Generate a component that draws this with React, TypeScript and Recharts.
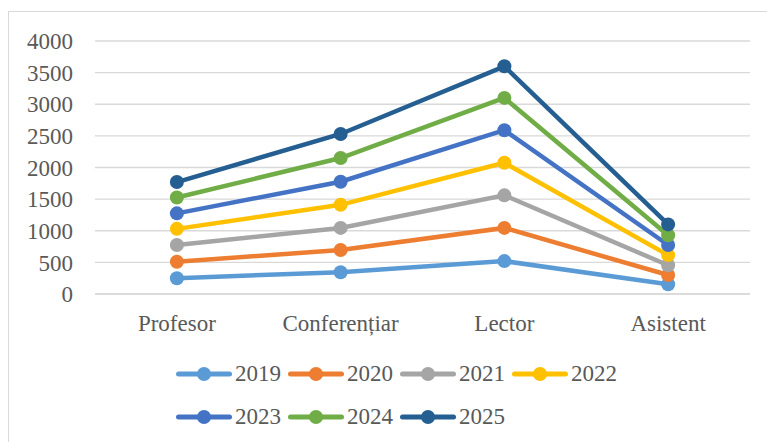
import React from "react";
import { LineChart, Line, XAxis, YAxis, CartesianGrid, Legend } from "recharts";

const categories = ["Profesor", "Conferențiar", "Lector", "Asistent"];
const years = ["2019", "2020", "2021", "2022", "2023", "2024", "2025"];
const colors = ["#5B9BD5", "#ED7D31", "#A5A5A5", "#FFC000", "#4472C4", "#70AD47", "#255E91"];
const yTicks = [0, 500, 1000, 1500, 2000, 2500, 3000, 3500, 4000];

const values2019 = [250, 345, 520, 155];
const values2020 = [510, 695, 1045, 300];
const values2021 = [775, 1045, 1560, 455];
const values2022 = [1030, 1410, 2075, 615];
const values2023 = [1275, 1775, 2590, 775];
const values2024 = [1525, 2150, 3100, 930];
const values2025 = [1770, 2530, 3600, 1100];

const seriesValues = [values2019, values2020, values2021, values2022, values2023, values2024, values2025];

const data = categories.map((name, i) => {
  const row: Record<string, string | number> = { name };
  years.forEach((y, s) => {
    row[y] = seriesValues[s][i];
  });
  return row;
});

const font = "'Liberation Serif', 'Times New Roman', serif";
const textColor = "#595959";

const LegendContent = () => (
  <div style={{ display: "flex", flexWrap: "wrap", width: 460, fontFamily: font, fontSize: 23, color: textColor }}>
    {years.map((y, i) => (
      <div key={y} style={{ display: "flex", alignItems: "center", height: 43, width: 112 }}>
        <svg width={56} height={16} style={{ display: "block" }}>
          <line x1={2.5} y1={8} x2={53.5} y2={8} stroke={colors[i]} strokeWidth={5} strokeLinecap="round" />
          <circle cx={28} cy={8} r={7} fill={colors[i]} />
        </svg>
        <span style={{ marginLeft: 3 }}>{y}</span>
      </div>
    ))}
  </div>
);

export default function App() {
  return (
    <div style={{ position: "absolute", left: 0, top: 0, width: 767, height: 442, overflow: "hidden", background: "#fff" }}>
      <div style={{ position: "absolute", left: 8, top: 11, width: 820, height: 520, border: "1px solid #d9d9d9" }} />
      <div style={{ position: "absolute", left: 0, top: 0 }}>
        <LineChart width={767} height={442} data={data} margin={{ top: 41, right: 17, bottom: 108, left: 0 }}>
          <CartesianGrid vertical={false} stroke="#d9d9d9" strokeWidth={1.3} />
          <XAxis
            dataKey="name"
            scale="band"
            height={40}
            axisLine={{ stroke: "#d9d9d9", strokeWidth: 1.3 }}
            tickLine={false}
            tickMargin={15}
            interval={0}
            tick={{ fill: textColor, fontSize: 23, fontFamily: font }}
          />
          <YAxis
            width={95}
            domain={[0, 4000]}
            ticks={yTicks}
            axisLine={false}
            tickLine={false}
            tickMargin={16}
            tick={{ fill: textColor, fontSize: 23, fontFamily: font }}
          />
          <Legend
            verticalAlign="middle"
            align="center"
            wrapperStyle={{ top: 352, left: 176, width: 460 }}
            content={() => <LegendContent />}
          />
          {years.map((y, i) => (
            <Line
              key={y}
              dataKey={y}
              stroke={colors[i]}
              strokeWidth={4.5}
              dot={{ r: 7, fill: colors[i], stroke: colors[i], strokeWidth: 0 }}
              activeDot={false}
              isAnimationActive={false}
            />
          ))}
        </LineChart>
      </div>
    </div>
  );
}
